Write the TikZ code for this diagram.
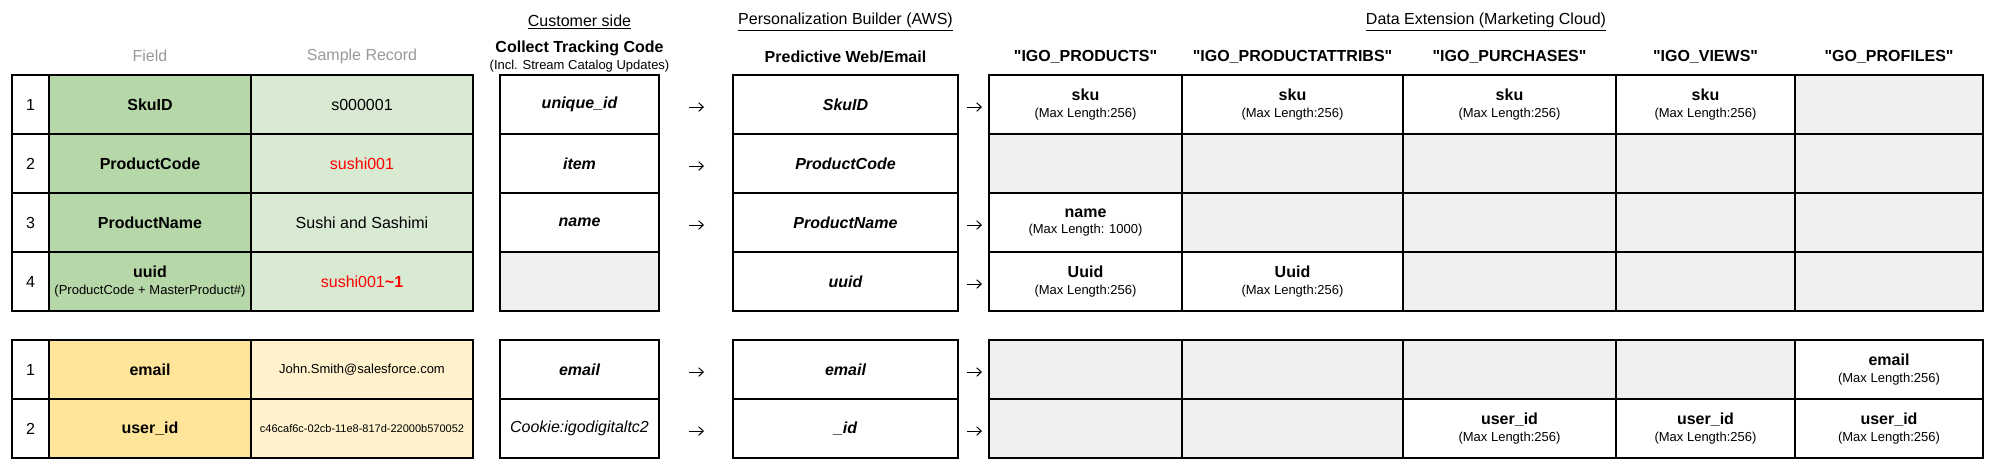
\documentclass[tikz,border=0pt]{standalone}
\usepackage{fontspec}
\setmainfont{Liberation Sans}[Ligatures=TeXOff]
\usetikzlibrary{arrows.meta}
\definecolor{grnD}{HTML}{B6D7A8}
\definecolor{grnL}{HTML}{D9EAD3}
\definecolor{ylwD}{HTML}{FFE599}
\definecolor{ylwL}{HTML}{FFF2CC}
\definecolor{cellgray}{HTML}{EFEFEF}
\definecolor{hdrgray}{HTML}{999999}
\definecolor{redtxt}{HTML}{FF0000}
\newcommand\mfbig{\fontsize{12}{12.5}\selectfont}
\newcommand\mfsmall{\fontsize{9.75}{12}\selectfont}
\newcommand\mftiny{\fontsize{8.25}{10}\selectfont}
\newcommand\twoline[2]{\textbf{#1}\\{\mfsmall #2}}
\newcommand\sq{\char34\relax}
\begin{document}
\begin{tikzpicture}[x=0.75pt,y=-0.75pt,
  cell/.style={inner sep=0pt, outer sep=0pt, align=center, minimum height=44.25pt, font=\mfbig},
  empty/.style={fill=cellgray},
  wnum/.style={cell, minimum width=27.75pt},
  wfield/.style={cell, minimum width=151.5pt},
  wsample/.style={cell, minimum width=166.5pt},
  wcol/.style={cell, minimum width=119.25pt},
  wpred/.style={cell, minimum width=168.75pt},
  wprod/.style={cell, minimum width=144.75pt},
  wattr/.style={cell, minimum width=165.75pt},
  wpur/.style={cell, minimum width=159.75pt},
  wview/.style={cell, minimum width=134.25pt},
  wprof/.style={cell, minimum width=141pt},
  hdr/.style={font=\mfbig, inner sep=0pt},
  border/.style={line width=0.9pt},
  arr/.style={line width=0.75pt, -{Straight Barb[length=3.5pt,width=6.5pt]}},
  arrA/.style={arr, shorten <=22.5pt, shorten >=21.75pt},
  arrB/.style={arr, shorten <=6.75pt, shorten >=5.25pt}
]
\fill[white] (0,0) rectangle (1994,474);
\useasboundingbox (0,0) rectangle (1994,474);

% ---------- headers ----------
\node[hdr, text=hdrgray] (hfield) at (150,56) {Field};
\node[hdr, text=hdrgray] (hsample) at (362,56) {Sample Record};
\node[hdr] (hcust) at (579.5,22) {\underline{Customer side}};
\node[hdr, font=\mfbig\bfseries] (hctc) at (579.5,48) {Collect Tracking Code};
\node[hdr, font=\mfsmall] (hctcsub) at (579.5,66) {(Incl. Stream Catalog Updates)};
\node[hdr] (hpers) at (845.5,22) {\underline{Personalization Builder (AWS)}};
\node[hdr, font=\mfbig\bfseries] (hpred) at (845.5,57) {Predictive Web/Email};
\node[hdr] (hde) at (1486,22) {\underline{Data Extension (Marketing Cloud)}};
\node[hdr, font=\mfbig\bfseries] (hd1) at (1085.5,57) {\sq IGO\_PRODUCTS\sq};
\node[hdr, font=\mfbig\bfseries] (hd2) at (1292.5,57) {\sq IGO\_PRODUCTATTRIBS\sq};
\node[hdr, font=\mfbig\bfseries] (hd3) at (1509.5,57) {\sq IGO\_PURCHASES\sq};
\node[hdr, font=\mfbig\bfseries] (hd4) at (1705.5,57) {\sq IGO\_VIEWS\sq};
\node[hdr, font=\mfbig\bfseries] (hd5) at (1889,57) {\sq GO\_PROFILES\sq};

% ---------- row 1 ----------
\node[wnum] (n1) at (30.5,104.5) {1};
\node[wfield, fill=grnD] (f1) at (150,104.5) {\textbf{SkuID}};
\node[wsample, fill=grnL] (s1) at (362,104.5) {s000001};
\node[wcol] (c1) at (579.5,104.5) {\bfseries\itshape unique\_id};
\node[wpred] (p1) at (845.5,104.5) {\bfseries\itshape SkuID};
\node[wprod] (d11) at (1085.5,104.5) {\twoline{sku}{(Max Length:256)}};
\node[wattr] (d21) at (1292.5,104.5) {\twoline{sku}{(Max Length:256)}};
\node[wpur] (d31) at (1509.5,104.5) {\twoline{sku}{(Max Length:256)}};
\node[wview] (d41) at (1705.5,104.5) {\twoline{sku}{(Max Length:256)}};
\node[wprof, empty] (d51) at (1889,104.5) {};

% ---------- row 2 ----------
\node[wnum] (n2) at (30.5,163.5) {2};
\node[wfield, fill=grnD] (f2) at (150,163.5) {\textbf{ProductCode}};
\node[wsample, fill=grnL, text=redtxt] (s2) at (362,163.5) {sushi001};
\node[wcol] (c2) at (579.5,163.5) {\bfseries\itshape item};
\node[wpred] (p2) at (845.5,163.5) {\bfseries\itshape ProductCode};
\node[wprod, empty] (d12) at (1085.5,163.5) {};
\node[wattr, empty] (d22) at (1292.5,163.5) {};
\node[wpur, empty] (d32) at (1509.5,163.5) {};
\node[wview, empty] (d42) at (1705.5,163.5) {};
\node[wprof, empty] (d52) at (1889,163.5) {};

% ---------- row 3 ----------
\node[wnum] (n3) at (30.5,222.5) {3};
\node[wfield, fill=grnD] (f3) at (150,222.5) {\textbf{ProductName}};
\node[wsample, fill=grnL] (s3) at (362,222.5) {Sushi and Sashimi};
\node[wcol] (c3) at (579.5,222.5) {\bfseries\itshape name};
\node[wpred] (p3) at (845.5,222.5) {\bfseries\itshape ProductName};
\node[wprod] (d13) at (1085.5,222.5) {\twoline{name}{(Max Length: 1000)}};
\node[wattr, empty] (d23) at (1292.5,222.5) {};
\node[wpur, empty] (d33) at (1509.5,222.5) {};
\node[wview, empty] (d43) at (1705.5,222.5) {};
\node[wprof, empty] (d53) at (1889,222.5) {};

% ---------- row 4 ----------
\node[wnum] (n4) at (30.5,281.5) {4};
\node[wfield, fill=grnD] (f4) at (150,281.5) {\twoline{uuid}{(ProductCode + MasterProduct\#)}};
\node[wsample, fill=grnL, text=redtxt] (s4) at (362,281.5) {sushi001\textbf{\textasciitilde1}};
\node[wcol, empty] (c4) at (579.5,281.5) {};
\node[wpred] (p4) at (845.5,281.5) {\bfseries\itshape uuid};
\node[wprod] (d14) at (1085.5,281.5) {\twoline{Uuid}{(Max Length:256)}};
\node[wattr] (d24) at (1292.5,281.5) {\twoline{Uuid}{(Max Length:256)}};
\node[wpur, empty] (d34) at (1509.5,281.5) {};
\node[wview, empty] (d44) at (1705.5,281.5) {};
\node[wprof, empty] (d54) at (1889,281.5) {};

% ---------- row 5 ----------
\node[wnum] (n5) at (30.5,369.5) {1};
\node[wfield, fill=ylwD] (f5) at (150,369.5) {\textbf{email}};
\node[wsample, fill=ylwL, font=\mfsmall] (s5) at (362,369.5) {John.Smith@salesforce.com};
\node[wcol] (c5) at (579.5,369.5) {\bfseries\itshape email};
\node[wpred] (p5) at (845.5,369.5) {\bfseries\itshape email};
\node[wprod, empty] (d15) at (1085.5,369.5) {};
\node[wattr, empty] (d25) at (1292.5,369.5) {};
\node[wpur, empty] (d35) at (1509.5,369.5) {};
\node[wview, empty] (d45) at (1705.5,369.5) {};
\node[wprof] (d55) at (1889,369.5) {\twoline{email}{(Max Length:256)}};

% ---------- row 6 ----------
\node[wnum] (n6) at (30.5,428.5) {2};
\node[wfield, fill=ylwD] (f6) at (150,428.5) {\textbf{user\_id}};
\node[wsample, fill=ylwL, font=\mftiny] (s6) at (362,428.5) {c46caf6c-02cb-11e8-817d-22000b570052};
\node[wcol] (c6) at (579.5,428.5) {\itshape Cookie:igodigitaltc2};
\node[wpred] (p6) at (845.5,428.5) {\bfseries\itshape \_id};
\node[wprod, empty] (d16) at (1085.5,428.5) {};
\node[wattr, empty] (d26) at (1292.5,428.5) {};
\node[wpur] (d36) at (1509.5,428.5) {\twoline{user\_id}{(Max Length:256)}};
\node[wview] (d46) at (1705.5,428.5) {\twoline{user\_id}{(Max Length:256)}};
\node[wprof] (d56) at (1889,428.5) {\twoline{user\_id}{(Max Length:256)}};

% ---------- cell borders ----------
\foreach \r in {1,...,6}{
  \foreach \k in {n,f,s,c,p,d1,d2,d3,d4,d5}{
    \draw[border] (\k\r.south west) rectangle (\k\r.north east);
  }
}

% ---------- arrows ----------
\foreach \r in {1,2,3,5,6}{
  \draw[arrA] ([yshift=-1.9pt]c\r.east) -- ([yshift=-1.9pt]p\r.west);
}
\foreach \r in {1,3,4,5,6}{
  \draw[arrB] ([yshift=-1.9pt]p\r.east) -- ([yshift=-1.9pt]d1\r.west);
}
\end{tikzpicture}
\end{document}
